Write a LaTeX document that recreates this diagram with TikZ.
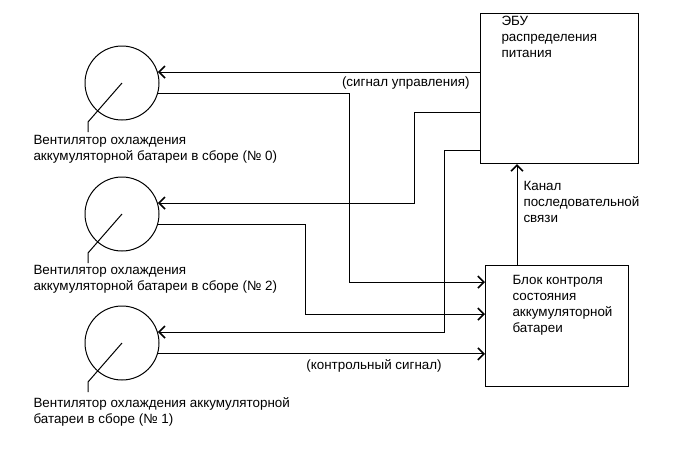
\documentclass[tikz,border=0pt]{standalone}
\usepackage{fontspec}
\setmainfont{Liberation Sans}
\usetikzlibrary{arrows.meta,positioning}
\tikzset{>={Straight Barb[length=6pt,width=12pt,line width=1.6pt]}}
\tikzset{
  fan/.style={draw,circle,minimum size=74pt,inner sep=0pt},
  unit/.style={draw,rectangle,anchor=north west,inner sep=0pt},
  txt/.style={align=left,inner sep=0pt,font=\fontsize{13.4}{16}\selectfont}
}

\begin{document}
\begin{tikzpicture}[x=1pt,y=-1pt,line width=1pt]

  \useasboundingbox (0,0) rectangle (691,467);

  \newcommand\FanX{122};

  % fans
  \node[fan] (fan0) at (\FanX, 83) {};
  \node[fan] (fan2) at (\FanX, 214) {};
  \node[fan] (fan1) at (\FanX, 343) {};

  \node[txt,anchor=north west] (lab0) at (33,135)
  {Вентилятор охлаждения\\аккумуляторной батареи в сборе (№ 0)};
  \node[txt,anchor=north west] (lab2) at (33,265)
  {Вентилятор охлаждения\\аккумуляторной батареи в сборе (№ 2)};
  \node[txt,anchor=north west] (lab1) at (33,397)
  {Вентилятор охлаждения аккумуляторной\\батареи в сборе (№ 1)};

  \draw (fan0.center) -- ++(-34,39) -- ++(0,10);
  \draw (fan2.center) -- ++(-34,39) -- ++(0,10);
  \draw (fan1.center) -- ++(-34,39) -- ++(0,10);

  % units
  \node[unit,minimum width=158pt,minimum height=150pt] (ecu) at (480,13) {};
  \node[unit,minimum width=143pt,minimum height=121pt] (bms) at (485,265) {};

  \node[txt,anchor=north west,below right=3pt and 21pt of ecu.north west] (ecut)
  {ЭБУ\\распределения\\питания};
  \node[txt,anchor=north west,below right=10pt and 27pt of bms.north west] (bmst)
  {Блок контроля\\состояния\\аккумуляторной\\батареи};

  % routing points
  \coordinate (k0) at (349,282);
  \coordinate (k1) at (414,112);
  \coordinate (k2) at (305,314);
  \coordinate (k3) at (444,150);
  \coordinate (k4) at (517,0);

  \draw[->] (fan0.17 -| ecu.west) -- (fan0.17);
  \node[txt,anchor=north east] (sig) at (470,76) {(сигнал управления)};

  \draw[->] (fan0.-17) -| (k0) -- (k0 -| bms.west);

  \draw[->] (k1 -| ecu.west) -- (k1) |- (fan2.17);
  \draw[->] (fan2.-17) -| (k2) -- (k2 -| bms.west);

  \draw[->] (k3 -| ecu.west) -- (k3) |- (fan1.17);
  \draw[->] (fan1.-17) -- (fan1.-17 -| bms.west);
  \node[txt,anchor=north] (ctl) at (374,359) {(контрольный сигнал)};

  \draw[->] (k4 |- bms.north) -- (k4 |- ecu.south);
  \node[txt,anchor=north west] (can) at (523,181)
  {Канал\\последовательной\\связи};

\end{tikzpicture}
\end{document}
